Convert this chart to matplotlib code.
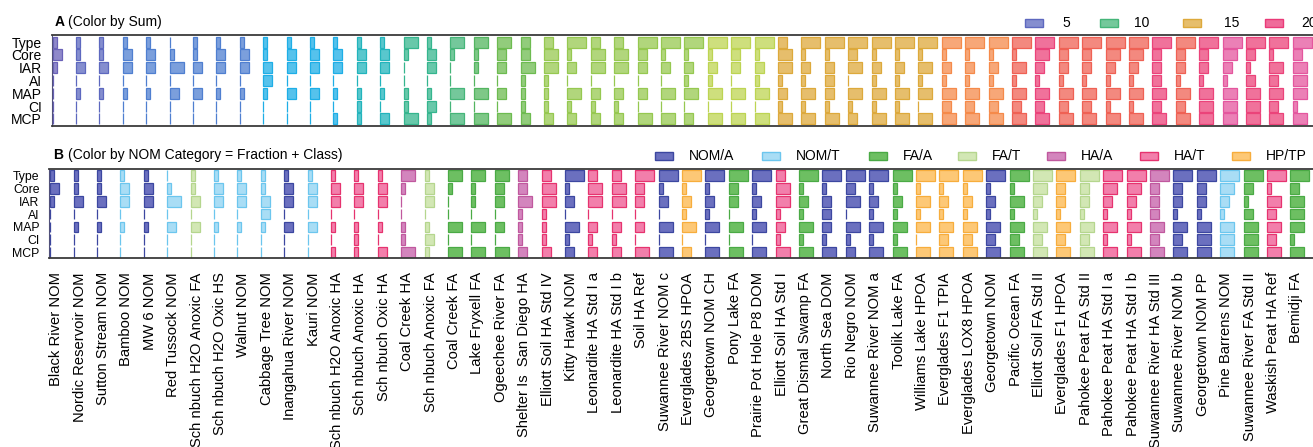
import numpy as np
import matplotlib
matplotlib.use("Agg")
import matplotlib.pyplot as plt
from matplotlib.colors import LinearSegmentedColormap, to_rgb
from matplotlib.patches import Rectangle

plt.rcParams["font.family"] = ["Liberation Sans", "DejaVu Sans"]

# ---- data -------------------------------------------------------------
samples = [
    "Black River NOM", "Nordic Reservoir NOM", "Sutton Stream NOM", "Bamboo NOM",
    "MW 6 NOM", "Red Tussock NOM", "Sch nbuch H2O Anoxic FA", "Sch nbuch H2O Oxic HS",
    "Walnut NOM", "Cabbage Tree NOM", "Inangahua River NOM", "Kauri NOM",
    "Sch nbuch H2O Anoxic HA", "Sch nbuch Anoxic HA", "Sch nbuch Oxic HA", "Coal Creek HA",
    "Sch nbuch Anoxic FA", "Coal Creek FA", "Lake Fryxell FA", "Ogeechee River FA",
    "Shelter Is  San Diego HA", "Elliott Soil HA Std IV", "Kitty Hawk NOM",
    "Leonardite HA Std I a", "Leonardite HA Std I b", "Soil HA Ref",
    "Suwannee River NOM c", "Everglades 2BS HPOA", "Georgetown NOM CH", "Pony Lake FA",
    "Prairie Pot Hole P8 DOM", "Elliott Soil HA Std I", "Great Dismal Swamp FA",
    "North Sea DOM", "Rio Negro NOM", "Suwannee River NOM a", "Toolik Lake FA",
    "Williams Lake HPOA", "Everglades F1 TPIA", "Everglades LOX8 HPOA", "Georgetown NOM",
    "Pacific Ocean FA", "Elliott Soil FA Std II", "Everglades F1 HPOA",
    "Pahokee Peat FA Std II", "Pahokee Peat HA Std I a", "Pahokee Peat HA Std I b",
    "Suwannee River HA Std III", "Suwannee River NOM b", "Georgetown NOM PP",
    "Pine Barrens NOM", "Suwannee River FA Std II", "Waskish Peat HA Ref", "Bemidji FA",
]

category = [
    "NOM/A", "NOM/A", "NOM/A", "NOM/T", "NOM/A", "NOM/T", "FA/T", "NOM/T", "NOM/T",
    "NOM/T", "NOM/A", "NOM/T", "HA/T", "HA/T", "HA/T", "HA/A", "FA/T", "FA/A",
    "FA/A", "FA/A", "HA/A", "HA/T", "NOM/A", "HA/T", "HA/T", "HA/T", "NOM/A",
    "HP/TP", "NOM/A", "FA/A", "NOM/A", "HA/T", "FA/A", "NOM/A", "NOM/A", "NOM/A",
    "FA/A", "HP/TP", "HP/TP", "HP/TP", "NOM/A", "FA/A", "FA/T", "HP/TP", "FA/T",
    "HA/T", "HA/T", "HA/A", "NOM/A", "NOM/A", "NOM/T", "FA/A", "HA/T", "FA/A",
]

row_names = ["Type", "Core", "IAR", "AI", "MAP", "CI", "MCP"]

type_w = [1, 1, 1, 1, 1, 0, 1, 1, 1, 1, 1, 1, 1, 1, 1, 3, 1, 3, 3, 3, 2, 2, 4, 2, 2, 4, 4,
          4, 4, 4, 4, 2, 4, 4, 4, 4, 4, 4, 4, 4, 4, 4, 4, 4, 4, 4, 4, 4, 4, 4, 4, 4, 4, 4]
core_w = [2, 1, 1, 2, 2, 1, 1, 2, 2, 1, 2, 2, 2, 2, 2, 1, 2, 1, 1, 2, 2, 3, 1, 3, 3, 2, 1,
          1, 1, 2, 1, 3, 1, 1, 2, 1, 1, 1, 1, 1, 1, 1, 3, 2, 2, 3, 3, 2, 2, 2, 3, 2, 1, 2]
iar_w = [1, 2, 2, 2, 2, 3, 2, 2, 2, 2, 2, 2, 2, 2, 2, 0, 2, 0, 1, 2, 3, 3, 2, 3, 3, 2, 2,
         2, 2, 2, 2, 3, 2, 2, 3, 2, 2, 3, 2, 2, 2, 3, 2, 2, 2, 2, 2, 2, 2, 2, 2, 1, 3, 3]
ai_w = [0, 0, 0, 0, 0, 0, 0, 0, 0, 2, 0, 0, 0, 0, 0, 0, 0, 0, 0, 0, 1, 1, 0, 0, 0, 0, 0,
        1, 1, 0, 1, 1, 1, 2, 0, 1, 1, 1, 1, 1, 1, 1, 1, 1, 1, 1, 1, 2, 1, 1, 1, 2, 2, 3]
map_w = [0, 1, 1, 1, 1, 2, 2, 1, 1, 1, 2, 2, 1, 1, 1, 1, 1, 3, 3, 2, 1, 1, 3, 2, 2, 2, 3,
         3, 3, 3, 3, 2, 3, 2, 3, 3, 3, 3, 3, 3, 3, 3, 3, 3, 3, 3, 3, 3, 3, 3, 3, 3, 3, 3]
ci_w = [0, 0, 0, 0, 0, 0, 0, 0, 0, 0, 0, 0, 0, 1, 0, 1, 2, 0, 0, 0, 1, 1, 1, 1, 1, 0, 0,
        0, 0, 0, 0, 1, 1, 1, 1, 1, 1, 0, 2, 2, 2, 2, 2, 2, 2, 1, 1, 2, 2, 3, 3, 3, 2, 1]
mcp_w = [0, 0, 0, 0, 0, 0, 0, 0, 0, 0, 0, 0, 1, 1, 2, 3, 1, 3, 3, 3, 2, 2, 2, 2, 2, 3, 3,
         2, 3, 3, 3, 3, 3, 3, 2, 3, 3, 3, 3, 3, 3, 3, 3, 3, 3, 3, 3, 3, 3, 3, 3, 3, 3, 3]

sum_legend = [5, 10, 15, 20]

# ---- styles -----------------------------------------------------------
W, H = 1313, 447
PX_PER_UNIT = 4.98
COL_STEP = 23.4 / PX_PER_UNIT

sum_anchors = [(4, "#6a62b8"), (5, "#5d68bf"), (6, "#4f7fd0"), (7, "#1eaee6"),
               (8, "#22b4bd"), (9, "#35b58e"), (10, "#45b57a"), (11, "#52b560"),
               (12, "#6cbb50"), (13, "#95c850"), (14, "#bcd653"), (15, "#dcaa3a"),
               (16, "#f58c4a"), (17, "#ef6352"), (18, "#eb4278"), (19, "#e458a0"),
               (20, "#ea3a78")]
lo, hi = sum_anchors[0][0], sum_anchors[-1][0]
sum_cmap = LinearSegmentedColormap.from_list(
    "bysum", [((s - lo) / (hi - lo), c) for s, c in sum_anchors])

cat_colors = {  # fill, edge
    "NOM/A": ("#6b70bf", "#3c47a0"),
    "NOM/T": ("#a9ddf5", "#6cc6ee"),
    "FA/A": ("#6dbf62", "#4aaa45"),
    "FA/T": ("#d2e7b4", "#b5d68e"),
    "HA/A": ("#d385bd", "#c0589e"),
    "HA/T": ("#f27fab", "#e6336f"),
    "HP/TP": ("#fdc876", "#f7ad3c"),
}


def lighten(c, amt=0.25):
    r = np.array(to_rgb(c))
    return tuple(r * (1 - amt) + amt)


def fax(left, top, right, bottom):
    return [left / W, 1 - bottom / H, (right - left) / W, (bottom - top) / H]


rows = np.array([type_w, core_w, iar_w, ai_w, map_w, ci_w, mcp_w])
sums = rows.sum(axis=0)
xpos = np.arange(len(samples)) * COL_STEP


def draw_panel(ax, fills, edges, left_px, ylim, bar_h, label_size):
    for r, name in enumerate(row_names):
        w = np.where(rows[r] > 0, rows[r] - 0.2, 0.0)
        ax.barh(r, w, left=xpos, height=bar_h, color=fills, edgecolor=edges,
                linewidth=0.9, align="center")
    ax.set_xlim(-0.2, -0.2 + (1330 - left_px) / PX_PER_UNIT)
    ax.set_ylim(*ylim)
    ax.set_yticks(range(len(row_names)))
    ax.set_yticklabels(row_names, fontsize=label_size)
    ax.tick_params(axis="y", length=0, pad=7)
    for s in ("top", "bottom"):
        ax.spines[s].set_linewidth(1.3)
        ax.spines[s].set_color("#3a3a3a")
    ax.spines["left"].set_linewidth(0.8)
    ax.spines["left"].set_color("#50507a")
    ax.spines["right"].set_visible(False)


fig = plt.figure(figsize=(W / 100, H / 100), dpi=100)

# ---- panel A ------------------------------------------------------------
axA = fig.add_axes(fax(51.7, 35, 1330, 126))
edgesA = [sum_cmap((s - lo) / (hi - lo)) for s in sums]
fillsA = [lighten(c) for c in edgesA]
draw_panel(axA, fillsA, edgesA, 51.7, (6.55, -0.56), 0.86, 10)
axA.set_xticks([])

# ---- panel B ------------------------------------------------------------
axB = fig.add_axes(fax(49.3, 169.3, 1330, 258.3))
fillsB = [cat_colors[c][0] for c in category]
edgesB = [cat_colors[c][1] for c in category]
draw_panel(axB, fillsB, edgesB, 49.3, (6.45, -0.5), 0.82, 8.8)
axB.set_xticks(xpos + 1.2)
axB.set_xticklabels(samples, rotation=90, fontsize=10.6, va="top", ha="center")
axB.tick_params(axis="x", length=0, pad=10)

# ---- titles -------------------------------------------------------------
fig.text(55 / W, 1 - 22 / H, "A", fontsize=10, fontweight="bold", va="center")
fig.text(68 / W, 1 - 22 / H, "(Color by Sum)", fontsize=10, va="center")
fig.text(53 / W, 1 - 155 / H, "B", fontsize=10, fontweight="bold", va="center")
fig.text(68 / W, 1 - 155 / H, "(Color by NOM Category = Fraction + Class)",
         fontsize=10, va="center")


# ---- legends --------------------------------------------------------------
def legend_item(x, y, fill, edge, label, text_x):
    fig.patches.append(Rectangle((x / W, 1 - (y + 4) / H), 18 / W, 8 / H,
                                 transform=fig.transFigure, facecolor=fill,
                                 edgecolor=edge, linewidth=1.0))
    fig.text(text_x / W, 1 - y / H, label, fontsize=10, va="center")


for val, px, tx in zip(sum_legend, [1025, 1100, 1183, 1265], [1062, 1134, 1224, 1301]):
    c = sum_cmap((min(val, hi) - lo) / (hi - lo))
    legend_item(px, 23, lighten(c), c, str(val), tx)

for cat, px in zip(cat_colors, [655, 762, 869, 958, 1047, 1140, 1232]):
    legend_item(px, 156, cat_colors[cat][0], cat_colors[cat][1], cat, px + 34)

fig.savefig("out.png", dpi=100)
plt.close(fig)
